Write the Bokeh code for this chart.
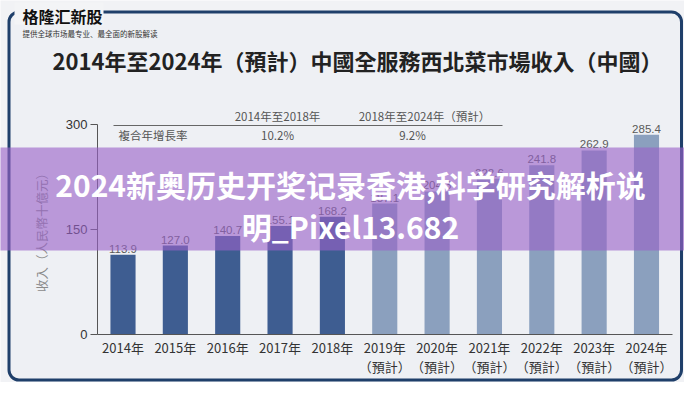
from bokeh.plotting import figure
from bokeh.models import Range1d, ColumnDataSource, LinearAxis, FixedTicker, BoxAnnotation
from bokeh.core.properties import value
from bokeh.embed import file_html
from bokeh.resources import INLINE

# ---------------- data ----------------
years = [2014, 2015, 2016, 2017, 2018, 2019, 2020, 2021, 2022, 2023, 2024]
revenue = [113.9, 127.0, 140.7, 155.1, 168.2, 187.1, 204.3, 222.6, 241.8, 262.9, 285.4]
forecast = [False, False, False, False, False, True, True, True, True, True, True]
year_labels = ["2014年", "2015年", "2016年", "2017年", "2018年",
               "2019年\n（預計）", "2020年\n（預計）", "2021年\n（預計）",
               "2022年\n（預計）", "2023年\n（預計）", "2024年\n（預計）"]
y_ticks = [0, 150, 300]
cagr_periods = ["2014年至2018年", "2018年至2024年（預計）"]
cagr_row_label = "複合年增長率"
cagr_values = ["10.2%", "9.2%"]
title_text = "2014年至2024年（預計）中國全服務西北菜市場收入（中國）"
y_label = "收入（人民幣十億元）"
brand = "格隆汇新股"
brand_sub = "提供全球市场最专业、最全面的新股解读"
banner = ["2024新奥历史开奖记录香港,科学研究解析说", "明_Pixel13.682"]

HIST = "#3e5d91"
FCST = "#8ba0be"
CJK = value("Noto Sans CJK TC")

W, H = 684, 382

# pixel helper for decorations (y measured from the top)
def T(py):
    return H - py

p = figure(width=W, height=H,
           x_range=Range1d(2011.660, 2024.726), y_range=Range1d(-68.57, 477.14),
           x_axis_type=None, y_axis_type=None,
           output_backend="svg", toolbar_location=None, min_border=0)
p.outline_line_color = None
p.background_fill_color = "#f1f2f5"
p.border_fill_color = "#f1f2f5"
p.extra_x_ranges = {"px": Range1d(0, W)}
p.extra_y_ranges = {"py": Range1d(0, H)}

# frame
frame = BoxAnnotation(left=8.5, right=681, top=T(11.5), bottom=T(379.5),
                      x_range_name="px", y_range_name="py",
                      fill_color="#eef0f4", fill_alpha=1.0,
                      line_color="#1f3f6a", line_alpha=1.0, line_width=3, border_radius=10,
                      level="underlay")
p.add_layout(frame)

# header box over border
p.quad(left=[14], right=[103], bottom=[T(24)], top=[T(2)],
       x_range_name="px", y_range_name="py",
       fill_color="#f3f4f6", line_color=None)
p.text(x=[22], y=[T(15)], text=[brand], x_range_name="px", y_range_name="py",
       text_font=value("Noto Sans CJK SC"), text_font_size="16px", text_font_style="bold",
       text_color="#111111", text_align="left", text_baseline="middle")
p.text(x=[22], y=[T(33)], text=[brand_sub], x_range_name="px", y_range_name="py",
       text_font=value("Noto Sans CJK SC"), text_font_size="7.5px",
       text_color="#333333", text_align="left", text_baseline="middle")

# title
p.text(x=[357], y=[T(59)], text=[title_text], x_range_name="px", y_range_name="py",
       text_font=CJK, text_font_size="22px", text_font_style="bold",
       text_color="#222222", text_align="center", text_baseline="middle")

# CAGR table
p.text(x=[277, 424], y=[T(115), T(115)], text=cagr_periods, x_range_name="px", y_range_name="py",
       text_font=CJK, text_font_size="11.5px", text_color="#555555",
       text_align="center", text_baseline="middle")
p.segment(x0=[113], y0=[T(125)], x1=[502], y1=[T(125)], x_range_name="px", y_range_name="py",
          line_color="#666666", line_width=1)
p.text(x=[118], y=[T(134)], text=[cagr_row_label], x_range_name="px", y_range_name="py",
       text_font=CJK, text_font_size="11.5px", text_color="#555555",
       text_align="left", text_baseline="middle")
p.text(x=[277, 412], y=[T(134), T(134)], text=cagr_values, x_range_name="px", y_range_name="py",
       text_font=CJK, text_font_size="11.5px", text_color="#555555",
       text_align="center", text_baseline="middle")

# bars
src = ColumnDataSource(dict(
    x=years, top=revenue,
    color=[FCST if f else HIST for f in forecast],
    lbl=[f"{v:.1f}" for v in revenue],
))
p.vbar(x="x", top="top", bottom=0, width=0.48, fill_color="color", line_color=None, source=src)
p.text(x="x", y="top", text="lbl", source=src, y_offset=-2,
       text_font=value("Liberation Sans"), text_font_size="11.5px", text_color="#5a5a5a",
       text_align="center", text_baseline="bottom")

# axes
yaxis = LinearAxis(fixed_location=2013.513)
yaxis.ticker = FixedTicker(ticks=y_ticks)
yaxis.bounds = (0, 300)
yaxis.axis_line_color = "#555555"
yaxis.major_tick_line_color = "#555555"
yaxis.major_tick_out = 7
yaxis.major_tick_in = 0
yaxis.minor_tick_line_color = None
yaxis.major_label_text_font = "Liberation Sans"
yaxis.major_label_text_font_size = "13px"
yaxis.major_label_text_color = "#333333"
yaxis.major_label_standoff = 3
yaxis.axis_label = y_label
yaxis.axis_label_text_font = "Noto Sans CJK TC"
yaxis.axis_label_text_font_size = "12.5px"
yaxis.axis_label_text_font_style = "normal"
yaxis.axis_label_text_color = "#8a8a8a"
yaxis.axis_label_standoff = 12
p.add_layout(yaxis, "left")

xaxis = LinearAxis(fixed_location=0)
xaxis.ticker = FixedTicker(ticks=years)
xaxis.major_label_overrides = {y: l for y, l in zip(years, year_labels)}
xaxis.bounds = (2013.513, 2024.497)
xaxis.axis_line_color = "#555555"
xaxis.major_tick_line_color = None
xaxis.major_tick_out = 0
xaxis.major_tick_in = 0
xaxis.minor_tick_line_color = None
xaxis.major_label_text_font = "Noto Sans CJK TC"
xaxis.major_label_text_font_size = "13px"
xaxis.major_label_text_color = "#333333"
xaxis.major_label_text_line_height = 1.0
xaxis.major_label_standoff = 3
p.add_layout(xaxis, "below")

# overlay banner
p.quad(left=[0], right=[W], bottom=[T(250)], top=[T(147)], x_range_name="px", y_range_name="py",
       fill_color="#9a62c8", fill_alpha=0.62, line_color=None, level="overlay")
p.text(x=[350, 350], y=[T(183), T(225)], text=banner, x_range_name="px", y_range_name="py",
       text_font=value("Noto Sans CJK SC"), text_font_size="30px", text_font_style="bold",
       text_color="#ffffff", text_align="center", text_baseline="middle", level="overlay")

open("out.html", "w").write(file_html(p, INLINE))
